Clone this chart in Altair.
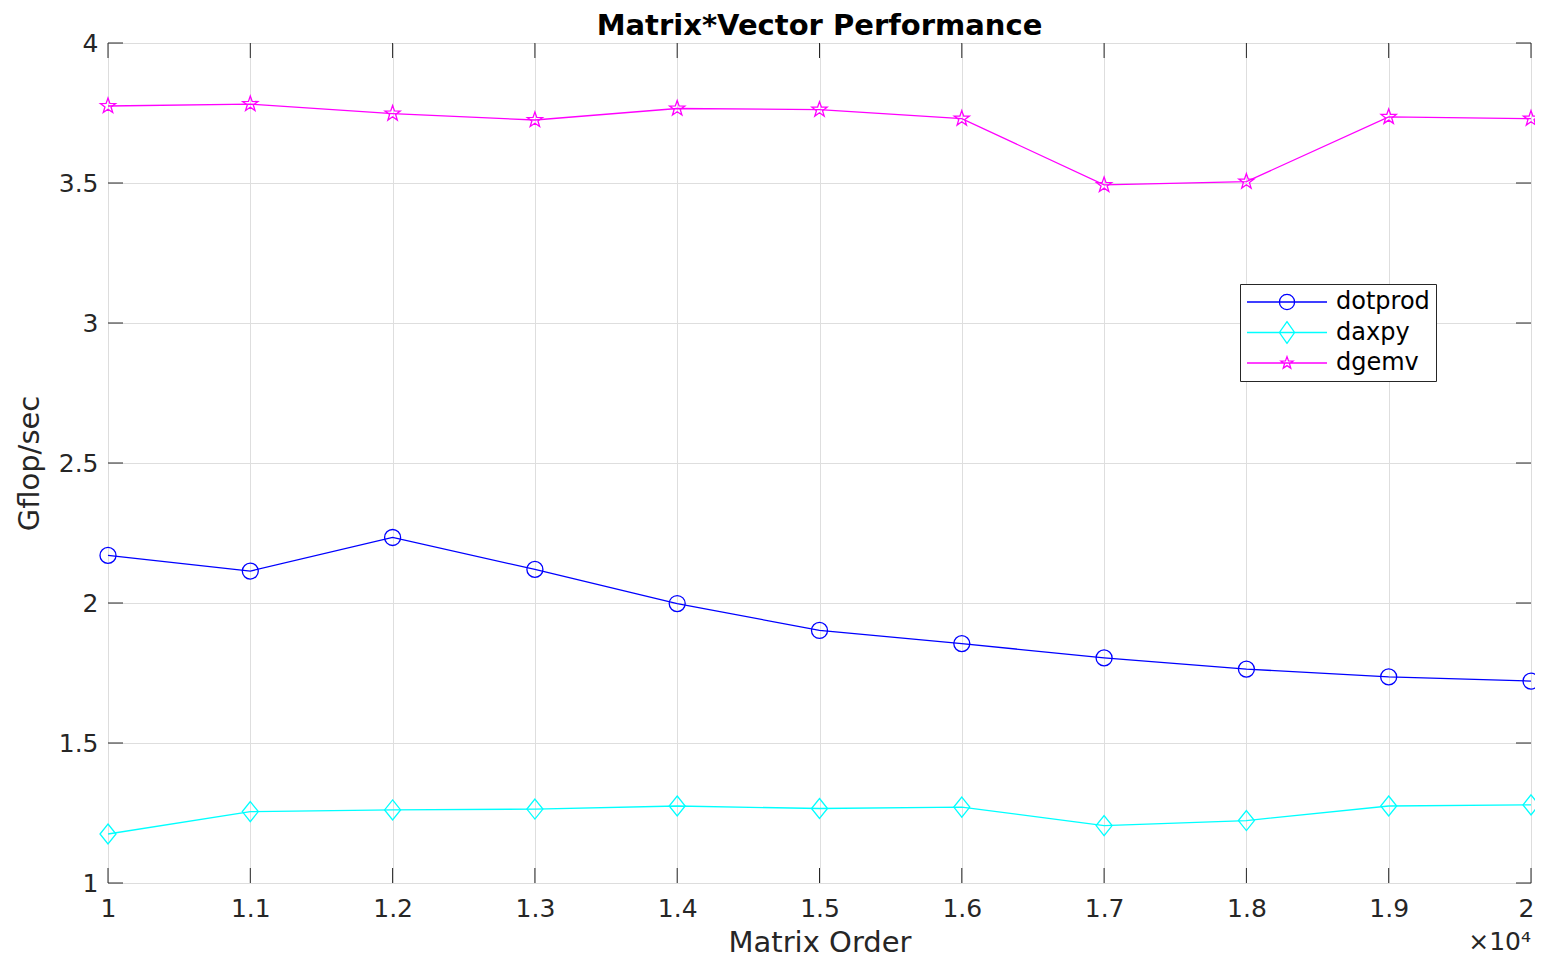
import math
import altair as alt
import pandas as pd

# ---------------- data ----------------
matrix_order = [10000, 11000, 12000, 13000, 14000, 15000, 16000, 17000, 18000, 19000, 20000]
dotprod = [2.170, 2.114, 2.234, 2.120, 1.998, 1.902, 1.855, 1.804, 1.764, 1.736, 1.721]
daxpy = [1.175, 1.255, 1.261, 1.264, 1.275, 1.266, 1.271, 1.205, 1.223, 1.275, 1.279]
dgemv = [3.775, 3.782, 3.748, 3.725, 3.766, 3.762, 3.730, 3.493, 3.505, 3.736, 3.730]
series_names = ["dotprod", "daxpy", "dgemv"]
series_colors = ["#0000ff", "#00ffff", "#ff00ff"]
x_ticks = [10000, 11000, 12000, 13000, 14000, 15000, 16000, 17000, 18000, 19000, 20000]
y_ticks = [1, 1.5, 2, 2.5, 3, 3.5, 4]
chart_title = "Matrix*Vector Performance"
x_title = "Matrix Order"
y_title = "Gflop/sec"
x_exponent = "×10⁴"

rows = []
for name, vals in zip(series_names, [dotprod, daxpy, dgemv]):
    for xv, yv in zip(matrix_order, vals):
        rows.append({"order": xv, "gflops": yv, "series": name})
df = pd.DataFrame(rows)
xtick_df = pd.DataFrame({"order": x_ticks})
ytick_df = pd.DataFrame({"gflops": y_ticks})

# ---------------- marker shapes ----------------
def circle_path(r, cx=0.0):
    return (f"M{cx + r:.3f},0A{r:.3f},{r:.3f} 0 1,1 {cx - r:.3f},0"
            f"A{r:.3f},{r:.3f} 0 1,1 {cx + r:.3f},0Z")

def diamond_path(w, h):
    return f"M0,{-h:.3f}L{w:.3f},0L0,{h:.3f}L{-w:.3f},0Z"

def star_path(ro, ri):
    pts = []
    for k in range(10):
        r = ro if k % 2 == 0 else ri
        a = math.radians(-90 + 36 * k)
        pts.append(f"{r * math.cos(a):.3f},{r * math.sin(a):.3f}")
    return "M" + "L".join(pts) + "Z"

marker_paths = [circle_path(1.0), diamond_path(1.0, 1.25), star_path(1.0, 0.4)]
legend_paths = [
    "M-1,0L1,0" + circle_path(0.19),
    "M-1,0L1,0" + diamond_path(0.19, 0.27),
    "M-1,0L1,0" + star_path(0.16, 0.065),
]

W, H = 1423, 840
TXT = "#262626"
FONT = "DejaVu Sans"

edge_test_x = "datum.value == 10000 || datum.value == 20000"
edge_test_y = "datum.value == 1 || datum.value == 4"
last_x = "datum.value == 20000"

x_enc = alt.X(
    "order:Q",
    scale=alt.Scale(domain=[10000, 20000], nice=False, zero=False),
    axis=alt.Axis(
        values=x_ticks, labelExpr="format(datum.value / 10000, '.1~f')",
        grid=True, gridColor="#dedede",
        gridOpacity={"condition": {"test": edge_test_x, "value": 0}, "value": 1},
        ticks=False, tickSize=0, domain=False, labelFlush=False, labelOverlap=False,
        labelAlign={"condition": {"test": last_x, "value": "right"}, "value": "center"},
        labelOffset={"condition": {"test": last_x, "value": 3}, "value": 0},
        labelFontSize=25, labelFont=FONT, labelColor=TXT, labelPadding=13,
        title=x_title, titleFontSize=29, titleFont=FONT, titleFontWeight="normal",
        titleColor=TXT, titlePadding=7,
    ),
)
y_enc = alt.Y(
    "gflops:Q",
    scale=alt.Scale(domain=[1, 4], nice=False, zero=False),
    axis=alt.Axis(
        values=y_ticks, format=".1~f",
        grid=True, gridColor="#dedede",
        gridOpacity={"condition": {"test": edge_test_y, "value": 0}, "value": 1},
        ticks=False, tickSize=0, domain=False, labelFlush=False, labelOverlap=False,
        labelFontSize=25, labelFont=FONT, labelColor=TXT, labelPadding=10,
        title=y_title, titleFontSize=29, titleFont=FONT, titleFontWeight="normal",
        titleColor=TXT, titlePadding=14,
    ),
)

color_scale = alt.Scale(domain=series_names, range=series_colors)

lines = alt.Chart(df).mark_line(strokeWidth=1.3).encode(
    x=x_enc, y=y_enc,
    color=alt.Color("series:N", scale=color_scale, legend=None),
    detail="series:N",
)

points = alt.Chart(df).mark_point(filled=False, strokeWidth=1.3, size=256, opacity=1).encode(
    x="order:Q", y="gflops:Q",
    color=alt.Color("series:N", scale=color_scale, legend=None),
    shape=alt.Shape("series:N", scale=alt.Scale(domain=series_names, range=marker_paths), legend=None),
)

tick_len = 15
tick_color = TXT
xt_bottom = alt.Chart(xtick_df).mark_rule(color=tick_color, strokeWidth=1).encode(
    x="order:Q", y=alt.value(H), y2=alt.value(H - tick_len))
xt_top = alt.Chart(xtick_df).mark_rule(color=tick_color, strokeWidth=1).encode(
    x="order:Q", y=alt.value(0), y2=alt.value(tick_len))
yt_left = alt.Chart(ytick_df).mark_rule(color=tick_color, strokeWidth=1).encode(
    y="gflops:Q", x=alt.value(0), x2=alt.value(tick_len))
yt_right = alt.Chart(ytick_df).mark_rule(color=tick_color, strokeWidth=1).encode(
    y="gflops:Q", x=alt.value(W), x2=alt.value(W - tick_len))

exponent = alt.Chart(pd.DataFrame({"t": [x_exponent]})).mark_text(
    align="right", baseline="alphabetic", fontSize=25, font=FONT, color=TXT
).encode(text="t:N", x=alt.value(W), y=alt.value(907))

title_mark = alt.Chart(pd.DataFrame({"t": [chart_title]})).mark_text(
    align="center", baseline="alphabetic", fontSize=29, font=FONT, fontWeight="bold", color="#000"
).encode(text="t:N", x=alt.value(W / 2), y=alt.value(-8))

legend_kwargs = dict(
    orient="none", legendX=1132, legendY=241, title=None,
    padding=6, strokeColor=TXT, fillColor="white", cornerRadius=0,
    labelFontSize=24, labelFont=FONT, labelColor="#000", labelOffset=8,
    symbolSize=6400, symbolStrokeWidth=1.3, rowPadding=6.5, clipHeight=24,
)
legend_layer = alt.Chart(df).transform_filter("false").mark_point(
    filled=False, strokeWidth=1.3, opacity=1
).encode(
    x="order:Q", y="gflops:Q",
    color=alt.Color("series:N", scale=color_scale, legend=alt.Legend(**legend_kwargs)),
    shape=alt.Shape("series:N", scale=alt.Scale(domain=series_names, range=legend_paths),
                    legend=alt.Legend(**legend_kwargs)),
)

chart = alt.layer(
    lines, points, xt_bottom, xt_top, yt_left, yt_right, exponent, title_mark, legend_layer
).resolve_scale(
    shape="independent", color="independent"
).properties(
    width=W, height=H,
    autosize=alt.AutoSizeParams(type="none"),
    padding={"left": 100, "top": 35, "right": 4, "bottom": 75},
).configure_view(stroke=TXT, strokeWidth=1).configure(background="white")

chart.save("out.html", embed_options={"renderer": "svg", "actions": False})
